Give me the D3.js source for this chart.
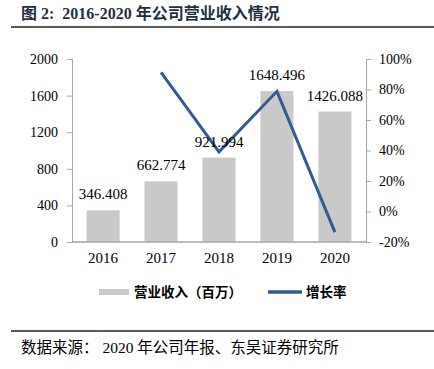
<!DOCTYPE html>
<html>
<head>
<meta charset="utf-8">
<script src="https://cdn.jsdelivr.net/npm/d3@7/dist/d3.min.js"></script>
<style>
  body { margin: 0; background: #fff; }
  svg { display: block; }
</style>
</head>
<body>
<div id="chart"></div>
<script>
// 数据
const years = ['2016', '2017', '2018', '2019', '2020']
const revenue = [346.408, 662.774, 921.994, 1648.496, 1426.088]
const growth = [null, 91.3, 39.1, 78.8, -13.5]
const leftTicks = [0, 400, 800, 1200, 1600, 2000]
const rightTicks = [-20, 0, 20, 40, 60, 80, 100]

const width = 434
const height = 369
const serif = '"Liberation Serif", "Times New Roman", serif'
const cjk = '"Noto Sans CJK SC", sans-serif'
const axisColor = '#a6a6a6'

const svg = d3.select('#chart')
  .append('svg')
  .attr('width', width)
  .attr('height', height)

// 标题
svg.append('text')
  .attr('x', 21)
  .attr('y', 19)
  .style('font-family', serif + ',' + cjk)
  .style('font-weight', 'bold')
  .style('font-size', '16px')
  .style('fill', '#1f3040')
  .text('图 2:\u00a0\u00a02016-2020 年公司营业收入情况')

svg.append('line')
  .attr('x1', 11).attr('x2', 434)
  .attr('y1', 27).attr('y2', 27)
  .style('stroke', '#222')
  .style('stroke-width', 1.5)

const plot = {left: 72, right: 366, top: 59, bottom: 242}

const x = d3.scaleBand()
  .domain(years)
  .range([plot.left + 3, plot.right - 3])
  .paddingInner(0.43)
  .paddingOuter(0.2)

const yL = d3.scaleLinear().domain([0, 2000]).range([plot.bottom, plot.top])
const yR = d3.scaleLinear().domain([-20, 100]).range([plot.bottom, plot.top])

// 左轴
const gL = svg.append('g')
  .attr('transform', 'translate(' + plot.left + ',0)')
  .call(d3.axisLeft(yL).tickValues(leftTicks).tickSize(5).tickPadding(9).tickFormat(d3.format('d')))
gL.selectAll('text').style('font-family', serif).style('font-size', '14px').style('fill', '#000')

// 右轴
const gR = svg.append('g')
  .attr('transform', 'translate(' + plot.right + ',0)')
  .call(d3.axisRight(yR).tickValues(rightTicks).tickSize(5).tickPadding(8).tickFormat(d => d + '%'))
gR.selectAll('text').style('font-family', serif).style('font-size', '14px').style('fill', '#000')

svg.selectAll('.domain, .tick line').style('stroke', axisColor)

// 柱
svg.selectAll('.bar')
  .data(revenue)
  .enter()
  .append('rect')
  .attr('class', 'bar')
  .attr('x', (d, i) => x(years[i]))
  .attr('y', d => yL(d))
  .attr('width', x.bandwidth())
  .attr('height', d => yL(0) - yL(d))
  .style('fill', '#c9c9c9')

// x 轴
const gX = svg.append('g')
  .attr('transform', 'translate(0,' + plot.bottom + ')')
  .call(d3.axisBottom(x).tickSize(0).tickPadding(10))
gX.select('.domain').remove()
gX.selectAll('text').style('font-family', serif).style('font-size', '15px').style('fill', '#000')
svg.append('line')
  .attr('x1', plot.left).attr('x2', plot.right)
  .attr('y1', plot.bottom).attr('y2', plot.bottom)
  .style('stroke', axisColor)
  .style('stroke-width', 1.5)

// 增长率折线
const pts = growth.map((g, i) => ({year: years[i], g: g})).filter(d => d.g !== null)
const line = d3.line()
  .x(d => x(d.year) + x.bandwidth() / 2)
  .y(d => yR(d.g))
svg.append('path')
  .datum(pts)
  .attr('d', line)
  .style('fill', 'none')
  .style('stroke', '#335b92')
  .style('stroke-width', 3)

// 数据标签
svg.selectAll('.label')
  .data(revenue)
  .enter()
  .append('text')
  .attr('class', 'label')
  .attr('x', (d, i) => x(years[i]) + x.bandwidth() / 2)
  .attr('y', d => yL(d) - 11)
  .attr('text-anchor', 'middle')
  .style('font-family', serif)
  .style('font-size', '15px')
  .text(d => d3.format('.3f')(d))

// 图例
const legend = svg.append('g').style('font-family', cjk).style('font-size', '13.5px').style('font-weight', 'bold')
legend.append('rect')
  .attr('x', 99).attr('y', 289).attr('width', 30).attr('height', 6)
  .style('fill', '#c9c9c9')
legend.append('text').attr('x', 134).attr('y', 297).text('营业收入（百万）')
legend.append('line')
  .attr('x1', 268).attr('x2', 302).attr('y1', 292).attr('y2', 292)
  .style('stroke', '#335b92').style('stroke-width', 3.5)
legend.append('text').attr('x', 306).attr('y', 297).text('增长率')

// 底部
svg.append('line')
  .attr('x1', 11).attr('x2', 434)
  .attr('y1', 331).attr('y2', 331)
  .style('stroke', '#222')
  .style('stroke-width', 1.5)

svg.append('text')
  .attr('x', 21)
  .attr('y', 353)
  .style('font-family', serif + ',' + cjk)
  .style('font-size', '15.5px')
  .text('数据来源：\u00a02020 年公司年报、东吴证券研究所')
</script>
</body>
</html>
